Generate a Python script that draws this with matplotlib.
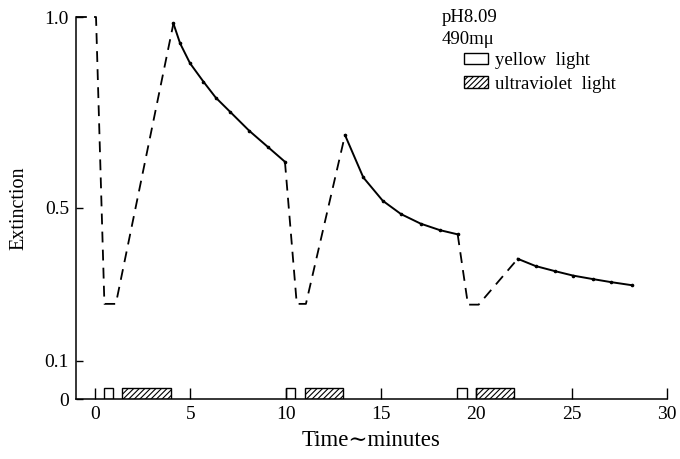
import matplotlib
matplotlib.use('Agg')
import matplotlib.pyplot as plt
from matplotlib.patches import Patch

plt.rcParams['font.family'] = ['Liberation Serif', 'DejaVu Serif']
plt.rcParams['hatch.linewidth'] = 0.8

# dark / switching parts of the trace (dashed)
dash1_t = [-1.0, 0.05, 0.49, 1.09, 4.11]
dash1_e = [1.0, 1.0, 0.249, 0.249, 0.983]
dash2_t = [9.96, 10.58, 11.06, 13.11]
dash2_e = [0.621, 0.249, 0.249, 0.691]
dash3_t = [19.02, 19.56, 20.12, 22.17]
dash3_e = [0.431, 0.247, 0.247, 0.367]

# measured decay curves (solid)
decay1_t = [4.11, 4.46, 4.98, 5.68, 6.33, 7.08, 8.09, 9.06, 9.96]
decay1_e = [0.983, 0.931, 0.879, 0.831, 0.789, 0.752, 0.702, 0.660, 0.621]
decay2_t = [13.11, 14.07, 15.09, 16.05, 17.08, 18.09, 19.02]
decay2_e = [0.691, 0.580, 0.519, 0.484, 0.459, 0.442, 0.431]
decay3_t = [22.17, 23.11, 24.1, 25.08, 26.1, 27.06, 28.14]
decay3_e = [0.367, 0.348, 0.335, 0.323, 0.314, 0.306, 0.298]

# light periods (minutes)
yellow_start = [0.45, 10.0, 19.0]
yellow_end = [0.95, 10.5, 19.5]
uv_start = [1.4, 11.0, 20.0]
uv_end = [4.0, 13.0, 22.0]
box_h = 0.028

xticks = [0, 5, 10, 15, 20, 25, 30]
yticks = [0, 0.1, 0.5, 1.0]
ytick_labels = ['0', '0.1', '0.5', '1.0']

fig = plt.figure(figsize=(6.8, 4.59), dpi=100)
ax = fig.add_axes([76 / 680, 1 - 399 / 459, 591 / 680, 382 / 459])

dash_kw = dict(color='black', lw=1.3, ls=(0, (6, 4)), clip_on=False)
for tt, ee in [(dash1_t, dash1_e), (dash2_t, dash2_e), (dash3_t, dash3_e)]:
    ax.plot(tt, ee, **dash_kw)
for tt, ee in [(decay1_t, decay1_e), (decay2_t, decay2_e), (decay3_t, decay3_e)]:
    ax.plot(tt, ee, color='black', lw=1.4, marker='o', ms=1.6, clip_on=False)

yw = [e - s for s, e in zip(yellow_start, yellow_end)]
uw = [e - s for s, e in zip(uv_start, uv_end)]
ax.bar(yellow_start, box_h, width=yw, align='edge', facecolor='white',
       edgecolor='black', lw=1.0)
ax.bar(uv_start, box_h, width=uw, align='edge', facecolor='white',
       edgecolor='black', lw=1.0, hatch='//////')

ax.set_xlim(-1, 30)
ax.set_ylim(0, 1.0)
ax.spines['top'].set_visible(False)
ax.spines['right'].set_visible(False)
ax.spines['left'].set_linewidth(1.1)
ax.spines['bottom'].set_linewidth(1.1)
ax.set_xticks(xticks)
ax.set_yticks(yticks)
ax.set_yticklabels(ytick_labels)
ax.tick_params(axis='x', direction='in', length=8, width=1.0, labelsize=14, pad=5)
ax.tick_params(axis='y', direction='in', length=5, width=1.0, labelsize=14, pad=5)

ax.set_xlabel('Time∼minutes', fontsize=16.5, labelpad=5)
ax.set_ylabel('Extinction', fontsize=14.5, labelpad=12)

fig.text(442 / 680, 1 - 18 / 459, 'pH8.09', fontsize=13.5, va='center')
fig.text(442 / 680, 1 - 40 / 459, '490mμ', fontsize=13.5, va='center')

handles = [Patch(facecolor='white', edgecolor='black', lw=1.0),
           Patch(facecolor='white', edgecolor='black', lw=1.0, hatch='//////')]
fig.legend(handles, ['yellow  light', 'ultraviolet  light'], loc='upper left',
           bbox_to_anchor=(464 / 680, 1 - 52 / 459), frameon=False,
           fontsize=13.5, handlelength=1.3, handleheight=0.55,
           handletextpad=0.35, labelspacing=0.35, borderpad=0,
           borderaxespad=0)

fig.savefig('out.png', dpi=100)
